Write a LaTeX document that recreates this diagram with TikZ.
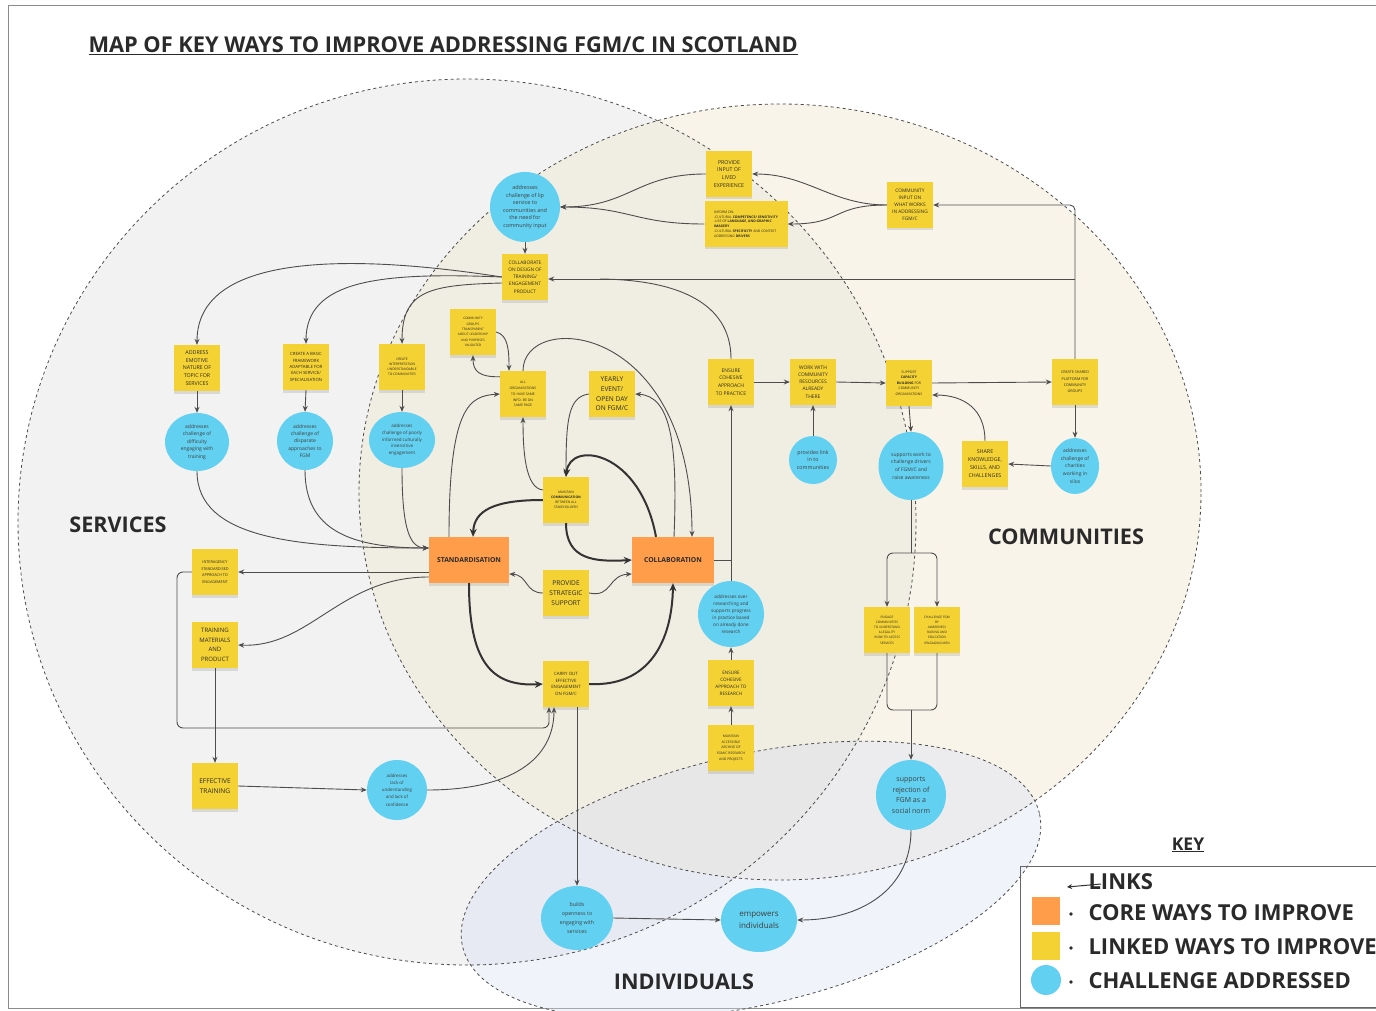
\documentclass[tikz,border=0pt]{standalone}
\usepackage{fontspec}
\setmainfont{Open Sans}
\usetikzlibrary{arrows.meta,shapes.geometric,shadows,calc}

\definecolor{stickyY}{HTML}{F5D233}
\definecolor{coreO}{HTML}{FF9D4A}
\definecolor{chalB}{HTML}{62D0F0}
\definecolor{linegray}{HTML}{4D4D4D}
\definecolor{darkline}{HTML}{333333}
\definecolor{servFill}{HTML}{E6E6E6}
\definecolor{commFill}{HTML}{EFE7CC}
\definecolor{indFill}{HTML}{D8DDF5}
\definecolor{txt}{HTML}{2A2A2A}

\newcommand\fsz[2]{\fontsize{#1}{#2}\selectfont}

\tikzset{
  sticky/.style={fill=stickyY, minimum width=46pt, minimum height=46pt, inner sep=1pt,
    align=center, text=txt, drop shadow={opacity=0.22, shadow xshift=0pt, shadow yshift=-2.5pt}},
  core/.style={fill=coreO, minimum width=80pt, minimum height=46pt, inner sep=1pt,
    align=center, text=txt, font=\fsz{6.8}{8}\bfseries,
    drop shadow={opacity=0.22, shadow xshift=0pt, shadow yshift=-2.5pt}},
  chal/.style={fill=chalB, ellipse, inner sep=0pt, align=center, text=txt!90},
  arr/.style={-{Stealth[length=6pt,width=5pt]}, line width=0.9pt, draw=linegray},
  boldarr/.style={-{Stealth[length=8pt,width=7pt]}, line width=2pt, draw=darkline},
  plain/.style={line width=0.9pt, draw=linegray},
  zone/.style={dash pattern=on 3pt off 3pt, line width=0.8pt, draw=black!70},
  zonelabel/.style={font=\fsz{21.6}{24}\bfseries, text=txt},
  keytext/.style={anchor=west, font=\fsz{22}{26}\bfseries, text=txt},
  keydot/.style={circle, fill=txt, minimum size=3.6pt, inner sep=0pt},
}

\begin{document}
\begin{tikzpicture}[x=1pt,y=-1pt]
\useasboundingbox (0,0) rectangle (1376,1011);
\clip (0,0) rectangle (1376,1011);
\fill[white] (0,0) rectangle (1376,1011);
\draw[black!45, line width=0.8pt] (8,5) rectangle (1400,1008);

% overlapping zones
\fill[servFill, fill opacity=0.5] (467,522) ellipse [x radius=449pt, y radius=443pt];
\fill[commFill, fill opacity=0.42] (780,492) ellipse [x radius=421pt, y radius=388pt];
\fill[indFill, fill opacity=0.35, rotate around={13:(751,880)}] (751,880) ellipse [x radius=296pt, y radius=125pt];
\draw[zone] (467,522) ellipse [x radius=449pt, y radius=443pt];
\draw[zone] (780,492) ellipse [x radius=421pt, y radius=388pt];
\draw[zone, rotate around={13:(751,880)}] (751,880) ellipse [x radius=296pt, y radius=125pt];

% title and zone names
\node[anchor=west, font=\fsz{21.8}{26}\bfseries, text=txt] (title) at (85,46)
  {\underline{MAP OF KEY WAYS TO IMPROVE ADDRESSING FGM/C IN SCOTLAND}};
\node[zonelabel] (lserv) at (118,525) {SERVICES};
\node[zonelabel] (lcomm) at (1066,537) {COMMUNITIES};
\node[zonelabel] (lind) at (684,982) {INDIVIDUALS};

% ---------- top: lived experience and community input
\node[chal, minimum size=70pt, font=\fsz{5.4}{7.6}] (c_lip) at (525,207)
  {addresses\\challenge of lip\\service to\\communities and\\the need for\\community input};
\node[sticky, font=\fsz{4.8}{7.2}] (s_collab_design) at (525,277)
  {COLLABORATE\\ON DESIGN OF\\TRAINING/\\ENGAGEMENT\\PRODUCT};
\node[sticky, font=\fsz{5.3}{7.8}] (s_lived) at (729,174)
  {PROVIDE\\INPUT OF\\LIVED\\EXPERIENCE};
\node[sticky, minimum width=83pt, minimum height=45pt, align=left, font=\fsz{3.4}{4.8}, inner sep=2pt] (s_info) at (746,224)
  {INFORM ON:\\-CULTURAL \textbf{COMPETENCE/ SENSITIVITY}\\-USE OF \textbf{LANGUAGE, AND GRAPHIC}\\\textbf{IMAGERY}\\-CULTURAL \textbf{SPECIFICITY} AND CONTEXT\\ADDRESSING \textbf{DRIVERS}};
\node[sticky, font=\fsz{4.8}{7}] (s_comm_input) at (910,205)
  {COMMUNITY\\INPUT ON\\WHAT WORKS\\IN ADDRESSING\\FGM/C};

% ---------- services column
\node[sticky, font=\fsz{5.3}{7.6}] (s_emotive) at (197,368)
  {ADDRESS\\EMOTIVE\\NATURE OF\\TOPIC FOR\\SERVICES};
\node[sticky, font=\fsz{4.3}{6.3}] (s_framework) at (306,367)
  {CREATE A BASIC\\FRAMEWORK\\ADAPTABLE FOR\\EACH SERVICE/\\SPECIALISATION};
\node[sticky, font=\fsz{3.3}{5}] (s_interp) at (402,367)
  {CREATE\\INTERPRETATION\\UNDERSTANDABLE\\TO COMMUNITIES};
\node[chal, minimum width=64pt, minimum height=58pt, font=\fsz{5}{7.4}] (c_difficulty) at (197,442)
  {addresses\\challenge of\\difficulty\\engaging with\\training};
\node[chal, minimum width=56pt, minimum height=58pt, font=\fsz{5}{7.4}] (c_disparate) at (305,441)
  {addresses\\challenge of\\disparate\\approaches to\\FGM};
\node[chal, minimum width=66pt, minimum height=56pt, font=\fsz{4.5}{6.6}] (c_poorly) at (402,440)
  {addresses\\challenge of poorly\\informed culturally\\insensitive\\engagement};

% ---------- centre
\node[sticky, font=\fsz{3.2}{5.3}] (s_groups) at (473,332)
  {COMMUNITY\\GROUPS\\TRANSPARENT\\ABOUT LEADERSHIP\\AND PURPOSES\\VALIDATED};
\node[sticky, font=\fsz{3.4}{5.8}] (s_allorgs) at (523,394)
  {ALL\\ORGANISATIONS\\TO HAVE SAME\\INFO- BE ON\\SAME PAGE};
\node[sticky, font=\fsz{6.6}{9.6}] (s_yearly) at (612,394)
  {YEARLY\\EVENT/\\OPEN DAY\\ON FGM/C};
\node[sticky, font=\fsz{3.3}{5}] (s_maintain_comm) at (566,500)
  {MAINTAIN\\\textbf{COMMUNICATION}\\BETWEEN ALL\\STAKEHOLDERS};
\node[core] (o_std) at (469,560) {STANDARDISATION};
\node[core, minimum width=82pt] (o_collab) at (673,560) {COLLABORATION};
\node[sticky, font=\fsz{6.6}{9.8}] (s_strategic) at (566,593)
  {PROVIDE\\STRATEGIC\\SUPPORT};
\node[sticky, font=\fsz{4.4}{6.8}] (s_carryout) at (566,684)
  {CARRY OUT\\EFFECTIVE\\ENGAGEMENT\\ON FGM/C};
\node[sticky, font=\fsz{5}{7.8}] (s_cohesive_practice) at (731,382)
  {ENSURE\\COHESIVE\\APPROACH\\TO PRACTICE};
\node[chal, minimum size=66pt, font=\fsz{4.7}{7}] (c_over) at (731,614)
  {addresses over\\researching and\\supports progress\\in practice based\\on already done\\research};
\node[sticky, font=\fsz{4.6}{7}] (s_cohesive_research) at (731,683)
  {ENSURE\\COHESIVE\\APPROACH TO\\RESEARCH};
\node[sticky, font=\fsz{3.4}{5.6}] (s_archive) at (731,748)
  {MAINTAIN\\ACCESSIBLE\\ARCHIVE OF\\FGM/C RESEARCH\\AND PROJECTS};

% ---------- communities
\node[sticky, font=\fsz{4.9}{7.2}] (s_work_resources) at (813,382)
  {WORK WITH\\COMMUNITY\\RESOURCES\\ALREADY\\THERE};
\node[chal, minimum size=48pt, font=\fsz{5.3}{7.8}] (c_link) at (813,460)
  {provides link\\in to\\communities};
\node[sticky, font=\fsz{3.4}{5.6}] (s_capacity) at (909,383)
  {SUPPORT\\\textbf{CAPACITY}\\\textbf{BUILDING} FOR\\COMMUNITY\\ORGANISATIONS};
\node[chal, minimum width=65pt, minimum height=68pt, font=\fsz{5}{7.8}] (c_drivers) at (911,466)
  {supports work to\\challenge drivers\\of FGM/C and\\raise awareness};
\node[sticky, font=\fsz{5.3}{8}] (s_share) at (985,464)
  {SHARE\\KNOWLEDGE,\\SKILLS, AND\\CHALLENGES};
\node[sticky, font=\fsz{3.7}{6.4}] (s_platform) at (1075,382)
  {CREATE SHARED\\PLATFORM FOR\\COMMUNITY\\GROUPS};
\node[chal, minimum width=48pt, minimum height=56pt, font=\fsz{5}{7.8}] (c_silos) at (1075,466)
  {addresses\\challenge of\\charities\\working in\\silos};
\node[sticky, font=\fsz{3.2}{5.2}] (s_engage_comm) at (887,630)
  {ENGAGE\\COMMUNITIES\\TO UNDERSTAND\\ILLEGALITY\\/HOW TO ACCESS\\SERVICES};
\node[sticky, font=\fsz{3.2}{5.2}] (s_challenge_fgm) at (937,630)
  {CHALLENGE FGM\\BY\\AWARENESS\\RAISING AND\\EDUCATION\\/ENGAGING MEN};
\node[chal, minimum size=70pt, font=\fsz{7}{10.5}] (c_rejection) at (911,795)
  {supports\\rejection of\\FGM as a\\social norm};

% ---------- lower services
\node[sticky, font=\fsz{3.8}{6.5}] (s_interagency) at (215,572)
  {INTERAGENCY\\STANDARDISED\\APPROACH TO\\ENGAGEMENT};
\node[sticky, font=\fsz{6}{9.5}] (s_training_mat) at (215,645)
  {TRAINING\\MATERIALS\\AND\\PRODUCT};
\node[sticky, font=\fsz{6.6}{10}] (s_effective) at (215,786)
  {EFFECTIVE\\TRAINING};
\node[chal, minimum size=60pt, font=\fsz{4.4}{7.2}] (c_lack) at (397,790)
  {addresses\\lack of\\understanding\\and lack of\\confidence};

% ---------- individuals
\node[chal, minimum width=72pt, minimum height=64pt, font=\fsz{5.3}{8.8}] (c_openness) at (577,918)
  {builds\\openness to\\engaging with\\services};
\node[chal, minimum width=76pt, minimum height=64pt, font=\fsz{8}{12}] (c_empowers) at (759,920)
  {empowers\\individuals};

% ================= connectors
% lived experience inputs
\draw[arr] (s_lived.west) .. controls +(-70,0) and +(70,0) .. (c_lip.east);
\draw[arr] (s_info.west) .. controls +(-70,0) and +(70,0) .. (c_lip.east);
\draw[arr] (s_comm_input.west) .. controls +(-55,0) and +(55,0) .. (s_lived.east);
\draw[arr] (s_comm_input.west) .. controls +(-55,0) and +(55,0) .. (s_info.east);
\draw[arr] (c_lip.south) -- (s_collab_design.north);

% shared platform feeding back up
\coordinate (jplat) at (1075,279);
\coordinate (jdesign) at (600,279);
\draw[arr, rounded corners=5] (s_platform.north) |- (s_comm_input.east);
\draw[arr] (jplat) -- (s_collab_design.east |- jplat);
\draw[plain] (s_cohesive_practice.north) .. controls (731,310) and (690,280) .. (jdesign);

% design product into services column
\draw[arr] (s_collab_design.west) .. controls (360,255) and (197,250) .. (s_emotive.north);
\draw[arr] (s_collab_design.west) .. controls (380,272) and (306,280) .. (s_framework.north);
\draw[arr] ([yshift=-6pt]s_collab_design.west) .. controls (430,285) and (402,290) .. (s_interp.north);
\draw[arr] (s_emotive.south) -- (c_difficulty.north);
\draw[arr] (s_framework.south) -- (c_disparate.north);
\draw[arr] (s_interp.south) -- (c_poorly.north);
\draw[arr] (c_difficulty.south) .. controls (197,540) and (300,548) .. ([yshift=12pt]o_std.west);
\draw[arr] (c_disparate.south) .. controls (305,530) and (350,548) .. ([yshift=12pt]o_std.west);
\draw[arr] (c_poorly.south) .. controls (402,530) and (410,548) .. ([yshift=12pt]o_std.west);

% standardisation outputs
\draw[arr] (o_std.west |- s_interagency.east) -- (s_interagency.east);
\draw[arr] ([yshift=-17pt]o_std.west) .. controls (340,577) and (310,648) .. (s_training_mat.east);
\coordinate (loopc) at (177,728);
\draw[arr, rounded corners=6] (s_interagency.west) -| (loopc) -| ([xshift=-17pt]s_carryout.south);
\draw[arr] (s_training_mat.south) -- (s_effective.north);
\draw[arr] (s_effective.east) -- (c_lack.west);
\draw[arr] (c_lack.east) .. controls (510,790) and (554,760) .. ([xshift=-12pt]s_carryout.south);
\draw[arr] (s_carryout.south -| c_openness.north) -- (c_openness.north);
\draw[arr] (c_openness.east) -- (c_empowers.west);
\draw[arr] (c_rejection.south) .. controls (911,890) and (860,920) .. (c_empowers.east);

% centre cluster
\draw[arr] (s_groups.east) .. controls (508,335) and (509,350) .. ([xshift=-14pt]s_allorgs.north);
\draw[arr] ([yshift=-6pt]s_allorgs.north west) .. controls (480,377) and (473,372) .. (s_groups.south);
\draw[arr] (s_allorgs.north) .. controls (523,310) and (692,320) .. ([xshift=19pt]o_collab.north);
\draw[arr] ([xshift=1pt]o_collab.north) .. controls (678,440) and (670,396) .. (s_yearly.east);
\draw[arr] (s_yearly.west) .. controls (568,397) and (566,420) .. (s_maintain_comm.north);
\draw[boldarr] ([xshift=-17pt]o_collab.north) .. controls (640,450) and (570,440) .. (s_maintain_comm.north);
\draw[boldarr] (s_maintain_comm.west) .. controls (495,500) and (474,510) .. ([xshift=4pt]o_std.north);
\draw[arr] ([yshift=10pt]s_maintain_comm.west) .. controls (525,488) and (523,450) .. (s_allorgs.south);
\draw[arr] ([xshift=-20pt]o_std.north) .. controls (449,405) and (470,396) .. (s_allorgs.west);
\draw[boldarr] (s_maintain_comm.south) .. controls (566,560) and (595,562) .. (o_collab.west);
\draw[arr] (s_strategic.east) .. controls (612,598) and (608,575) .. ([yshift=-14pt]o_collab.west);
\draw[arr] (s_strategic.west) .. controls (525,593) and (528,575) .. ([yshift=-14pt]o_std.east);
\draw[boldarr] (o_std.south) .. controls (469,660) and (490,687) .. (s_carryout.west);
\draw[boldarr] (s_carryout.east) .. controls (650,687) and (672,640) .. (o_collab.south);

% research / practice chain
\draw[arr] (c_over.north) -- (s_cohesive_practice.south);
\draw[plain] (o_collab.east) -- (o_collab.east -| c_over.north);
\draw[arr] (s_cohesive_research.north) -- (c_over.south);
\draw[arr] (s_archive.north) -- (s_cohesive_research.south);

% communities chain
\draw[arr] (s_cohesive_practice.east) -- (s_work_resources.west);
\draw[arr] (s_work_resources.east) -- (s_capacity.west);
\draw[arr] (s_capacity.east) -- (s_platform.west);
\draw[arr] (s_platform.south) -- (c_silos.north);
\draw[arr] (c_silos.west) -- (s_share.east);
\draw[arr] (s_share.north) .. controls (985,410) and (965,395) .. ([yshift=-12pt]s_capacity.east);
\draw[arr] (c_link.north) -- (s_work_resources.south);
\draw[arr] (s_capacity.south) -- (c_drivers.north);

\coordinate (jdrv) at (911,553);
\draw[plain] (c_drivers.south) -- (jdrv);
\draw[arr, rounded corners=6] (jdrv) -| (s_engage_comm.north);
\draw[arr, rounded corners=6] (jdrv) -| (s_challenge_fgm.north);
\coordinate (jrej) at (911,710);
\draw[plain, rounded corners=6] (s_engage_comm.south) |- (jrej);
\draw[plain, rounded corners=6] (s_challenge_fgm.south) |- (jrej);
\draw[arr] (jrej) -- (c_rejection.north);

% ================= key
\node[font=\fsz{17.5}{20}\bfseries, text=txt] (keytitle) at (1188,845) {\underline{KEY}};
\draw[black!60, line width=0.9pt] (1020,866) rectangle (1400,1007);
\coordinate (klinkA) at (1101,884);
\coordinate (klinkB) at (1067,887);
\draw[-{Stealth[length=5pt,width=5pt]}, line width=1pt, draw=darkline] (klinkA) -- (klinkB);
\node[keytext] (klinks) at (1085,882) {LINKS};
\node[fill=coreO, minimum size=28pt, inner sep=0pt] (kcore) at (1046,911) {};
\node[fill=stickyY, minimum size=28pt, inner sep=0pt] (klinked) at (1046,946) {};
\node[fill=chalB, circle, minimum size=30pt, inner sep=0pt] (kchal) at (1046,980) {};
\node[keydot] (kdot1) at (1071,914) {};
\node[keydot] (kdot2) at (1071,948) {};
\node[keydot] (kdot3) at (1071,982) {};
\node[keytext] (kcoretext) at (1085,913) {CORE WAYS TO IMPROVE};
\node[keytext] (klinkedtext) at (1085,947) {LINKED WAYS TO IMPROVE};
\node[keytext] (kchaltext) at (1085,981) {CHALLENGE ADDRESSED};
\end{tikzpicture}
\end{document}
